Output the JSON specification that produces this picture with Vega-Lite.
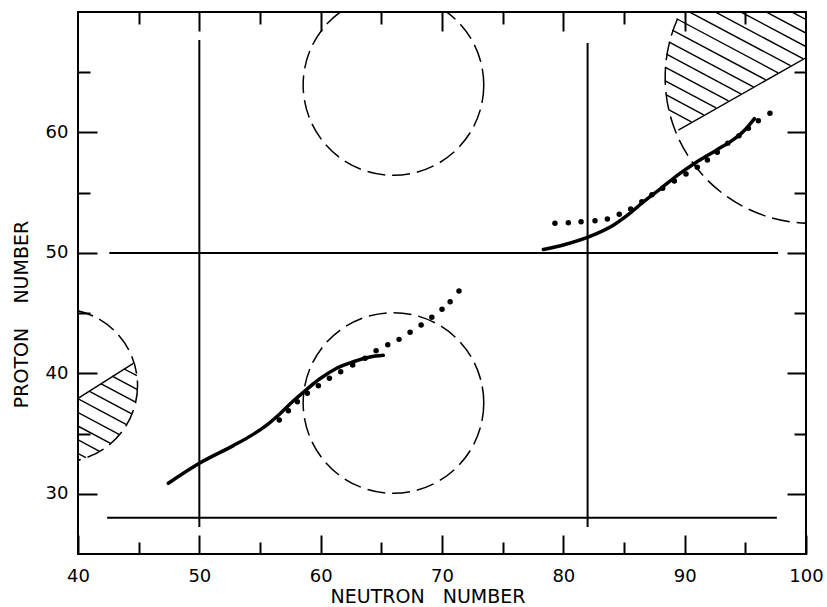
{
  "$schema": "https://vega.github.io/schema/vega-lite/v6.json",
  "width": 728,
  "height": 542,
  "autosize": {"type": "none"},
  "padding": {"left": 78, "top": 12, "right": 21, "bottom": 53},
  "background": "white",
  "config": {"view": {"stroke": "black", "strokeWidth": 2}},
  "datasets": {
    "lines": [
      {"x": 50, "y": 27.24, "x2": 50, "y2": 67.68},
      {"x": 82, "y": 27.24, "x2": 82, "y2": 67.43},
      {"x": 42.58, "y": 50, "x2": 97.7, "y2": 50},
      {"x": 42.4, "y": 28, "x2": 97.6, "y2": 28}
    ],
    "hatch": [
      {"x": 92.21, "y": 73.55, "x2": 102.8, "y2": 67.87},
      {"x": 91.49, "y": 72.8, "x2": 101.79, "y2": 67.29},
      {"x": 90.84, "y": 72.03, "x2": 100.77, "y2": 66.71},
      {"x": 90.27, "y": 71.21, "x2": 99.75, "y2": 66.12},
      {"x": 89.76, "y": 70.34, "x2": 98.72, "y2": 65.54},
      {"x": 89.34, "y": 69.44, "x2": 97.7, "y2": 64.95},
      {"x": 88.98, "y": 68.5, "x2": 96.68, "y2": 64.37},
      {"x": 88.69, "y": 67.52, "x2": 95.66, "y2": 63.79},
      {"x": 88.5, "y": 66.5, "x2": 94.63, "y2": 63.21},
      {"x": 88.38, "y": 65.43, "x2": 93.61, "y2": 62.62},
      {"x": 88.36, "y": 64.31, "x2": 92.59, "y2": 62.04},
      {"x": 88.45, "y": 63.14, "x2": 91.57, "y2": 61.46},
      {"x": 88.67, "y": 61.89, "x2": 90.55, "y2": 60.88},
      {"x": 89.48, "y": 60.2, "x2": 100.5, "y2": 66.49},
      {"x": 43.77, "y": 40.38, "x2": 44.85, "y2": 39.8},
      {"x": 42.82, "y": 39.76, "x2": 44.9, "y2": 38.65},
      {"x": 41.87, "y": 39.14, "x2": 44.75, "y2": 37.6},
      {"x": 40.91, "y": 38.52, "x2": 44.43, "y2": 36.63},
      {"x": 39.95, "y": 37.91, "x2": 44.0, "y2": 35.74},
      {"x": 38.99, "y": 37.29, "x2": 43.42, "y2": 34.91},
      {"x": 38.02, "y": 36.68, "x2": 42.68, "y2": 34.18},
      {"x": 37.07, "y": 36.06, "x2": 41.78, "y2": 33.53},
      {"x": 36.11, "y": 35.45, "x2": 40.65, "y2": 33.0},
      {"x": 39.5, "y": 37.6, "x2": 44.56, "y2": 40.83}
    ],
    "circles": [
      {"x": 66, "y": 63.94, "r": 7.47},
      {"x": 66, "y": 37.54, "r": 7.47},
      {"x": 38.6, "y": 38.99, "r": 6.33},
      {"x": 100.4, "y": 64.56, "r": 12.05}
    ],
    "curves": [
      {"series": "lower", "x": 47.44, "y": 30.87},
      {"series": "lower", "x": 50.0, "y": 32.53},
      {"series": "lower", "x": 52.8, "y": 34.0},
      {"series": "lower", "x": 54.3, "y": 34.85},
      {"series": "lower", "x": 55.55, "y": 35.7},
      {"series": "lower", "x": 56.65, "y": 36.65},
      {"series": "lower", "x": 57.74, "y": 37.7},
      {"series": "lower", "x": 58.71, "y": 38.55},
      {"series": "lower", "x": 59.94, "y": 39.55},
      {"series": "lower", "x": 61.32, "y": 40.42},
      {"series": "lower", "x": 62.69, "y": 40.96},
      {"series": "lower", "x": 64.07, "y": 41.36},
      {"series": "lower", "x": 65.16, "y": 41.5},
      {"series": "upper", "x": 78.35, "y": 50.28},
      {"series": "upper", "x": 80.0, "y": 50.66},
      {"series": "upper", "x": 82.14, "y": 51.35},
      {"series": "upper", "x": 84.12, "y": 52.3},
      {"series": "upper", "x": 85.5, "y": 53.3},
      {"series": "upper", "x": 86.5, "y": 54.15},
      {"series": "upper", "x": 87.97, "y": 55.3},
      {"series": "upper", "x": 89.62, "y": 56.6},
      {"series": "upper", "x": 90.99, "y": 57.55},
      {"series": "upper", "x": 92.64, "y": 58.55},
      {"series": "upper", "x": 94.01, "y": 59.4},
      {"series": "upper", "x": 95.0, "y": 60.25},
      {"series": "upper", "x": 95.75, "y": 61.15}
    ],
    "dots": [
      {"x": 56.59, "y": 36.12}, {"x": 57.34, "y": 36.9}, {"x": 58.08, "y": 37.64},
      {"x": 58.9, "y": 38.34}, {"x": 59.81, "y": 38.97}, {"x": 60.72, "y": 39.59},
      {"x": 61.65, "y": 40.13}, {"x": 62.64, "y": 40.69}, {"x": 63.66, "y": 41.25},
      {"x": 64.57, "y": 41.88}, {"x": 65.53, "y": 42.38}, {"x": 66.46, "y": 42.82},
      {"x": 67.37, "y": 43.41}, {"x": 68.28, "y": 44.01}, {"x": 69.16, "y": 44.65},
      {"x": 70.0, "y": 45.32}, {"x": 70.67, "y": 45.95}, {"x": 71.4, "y": 46.83},
      {"x": 79.31, "y": 52.46}, {"x": 80.41, "y": 52.51}, {"x": 81.46, "y": 52.59},
      {"x": 82.61, "y": 52.67}, {"x": 83.63, "y": 52.81}, {"x": 84.61, "y": 53.2},
      {"x": 85.55, "y": 53.64}, {"x": 86.47, "y": 54.25}, {"x": 87.3, "y": 54.83},
      {"x": 88.19, "y": 55.36}, {"x": 89.15, "y": 55.97}, {"x": 90.11, "y": 56.55},
      {"x": 91.04, "y": 57.11}, {"x": 91.87, "y": 57.71}, {"x": 92.69, "y": 58.35},
      {"x": 93.55, "y": 59.1}, {"x": 94.48, "y": 59.73}, {"x": 95.25, "y": 60.34},
      {"x": 96.07, "y": 60.98}, {"x": 97.03, "y": 61.59}
    ]
  },
  "layer": [
    {
      "data": {"name": "lines"},
      "mark": {"type": "rule", "color": "black", "strokeWidth": 2},
      "encoding": {
        "x": {
          "field": "x", "type": "quantitative",
          "scale": {"domain": [40, 100], "nice": false, "zero": false},
          "axis": {
            "orient": "bottom",
            "values": [40, 45, 50, 55, 60, 65, 70, 75, 80, 85, 90, 95, 100],
            "tickSize": {"condition": {"test": "datum.value % 10 === 0", "value": -19}, "value": -12},
            "tickWidth": 2, "tickColor": "black",
            "domain": false, "grid": false,
            "labelExpr": "datum.value % 10 === 0 ? datum.label : ''",
            "labelFont": "DejaVu Sans", "labelFontSize": 18, "labelColor": "black",
            "labelPadding": 32, "labelBaseline": "top", "labelFlush": false, "labelOverlap": false,
            "title": "NEUTRON\u00a0\u00a0\u00a0NUMBER",
            "titleFont": "DejaVu Sans", "titleFontSize": 19, "titleFontWeight": "normal", "titleColor": "black",
            "titleX": 349.5, "titleY": 48, "titleBaseline": "alphabetic", "titleAlign": "center"
          }
        },
        "y": {
          "field": "y", "type": "quantitative",
          "scale": {"domain": [25, 70], "nice": false, "zero": false},
          "axis": {
            "orient": "left",
            "values": [30, 35, 40, 45, 50, 55, 60, 65],
            "tickSize": {"condition": {"test": "datum.value % 10 === 0", "value": -19}, "value": -12},
            "tickWidth": 2, "tickColor": "black",
            "domain": false, "grid": false,
            "labelExpr": "datum.value % 10 === 0 ? datum.label : ''",
            "labelFont": "DejaVu Sans", "labelFontSize": 18, "labelColor": "black",
            "labelPadding": 29, "labelBaseline": "middle", "labelFlush": false, "labelOverlap": false,
            "title": "PROTON\u00a0\u00a0\u00a0\u00a0NUMBER",
            "titleFont": "DejaVu Sans", "titleFontSize": 19, "titleFontWeight": "normal", "titleColor": "black",
            "titleAngle": 270, "titleX": -51, "titleY": 302, "titleBaseline": "alphabetic", "titleAlign": "center"
          }
        },
        "x2": {"field": "x2"},
        "y2": {"field": "y2"}
      }
    },
    {
      "data": {"name": "hatch"},
      "mark": {"type": "rule", "color": "black", "strokeWidth": 1.4, "clip": true},
      "encoding": {
        "x": {
          "field": "x", "type": "quantitative",
          "axis": {
            "orient": "top",
            "values": [45, 50, 55, 60, 65, 70, 75, 80, 85, 90, 95],
            "tickSize": {"condition": {"test": "datum.value % 10 === 0", "value": -19}, "value": -12},
            "tickWidth": 2, "tickColor": "black",
            "domain": false, "grid": false, "labels": false, "title": null
          }
        },
        "y": {
          "field": "y", "type": "quantitative",
          "axis": {
            "orient": "right",
            "values": [30, 35, 40, 45, 50, 55, 60, 65],
            "tickSize": {"condition": {"test": "datum.value % 10 === 0", "value": -19}, "value": -12},
            "tickWidth": 2, "tickColor": "black",
            "domain": false, "grid": false, "labels": false, "title": null
          }
        },
        "x2": {"field": "x2"},
        "y2": {"field": "y2"}
      }
    },
    {
      "data": {"name": "circles"},
      "mark": {"type": "point", "shape": "circle", "filled": false, "stroke": "black", "strokeWidth": 1.5, "strokeDash": [18, 7], "opacity": 1, "clip": true},
      "encoding": {
        "x": {"field": "x", "type": "quantitative", "axis": null},
        "y": {"field": "y", "type": "quantitative", "axis": null},
        "size": {"field": "r", "type": "quantitative", "scale": {"type": "pow", "exponent": 2, "domain": [0, 10], "range": [0, 58467], "zero": true}, "legend": null}
      }
    },
    {
      "data": {"name": "curves"},
      "mark": {"type": "line", "color": "black", "strokeWidth": 3.5, "strokeCap": "round", "interpolate": "monotone"},
      "encoding": {
        "x": {"field": "x", "type": "quantitative", "axis": null},
        "y": {"field": "y", "type": "quantitative", "axis": null},
        "detail": {"field": "series", "type": "nominal"}
      }
    },
    {
      "data": {"name": "dots"},
      "mark": {"type": "point", "shape": "circle", "filled": true, "color": "black", "opacity": 1, "size": 30},
      "encoding": {
        "x": {"field": "x", "type": "quantitative", "axis": null},
        "y": {"field": "y", "type": "quantitative", "axis": null}
      }
    }
  ],
  "resolve": {
    "scale": {"x": "shared", "y": "shared"},
    "axis": {"x": "independent", "y": "independent"}
  }
}
